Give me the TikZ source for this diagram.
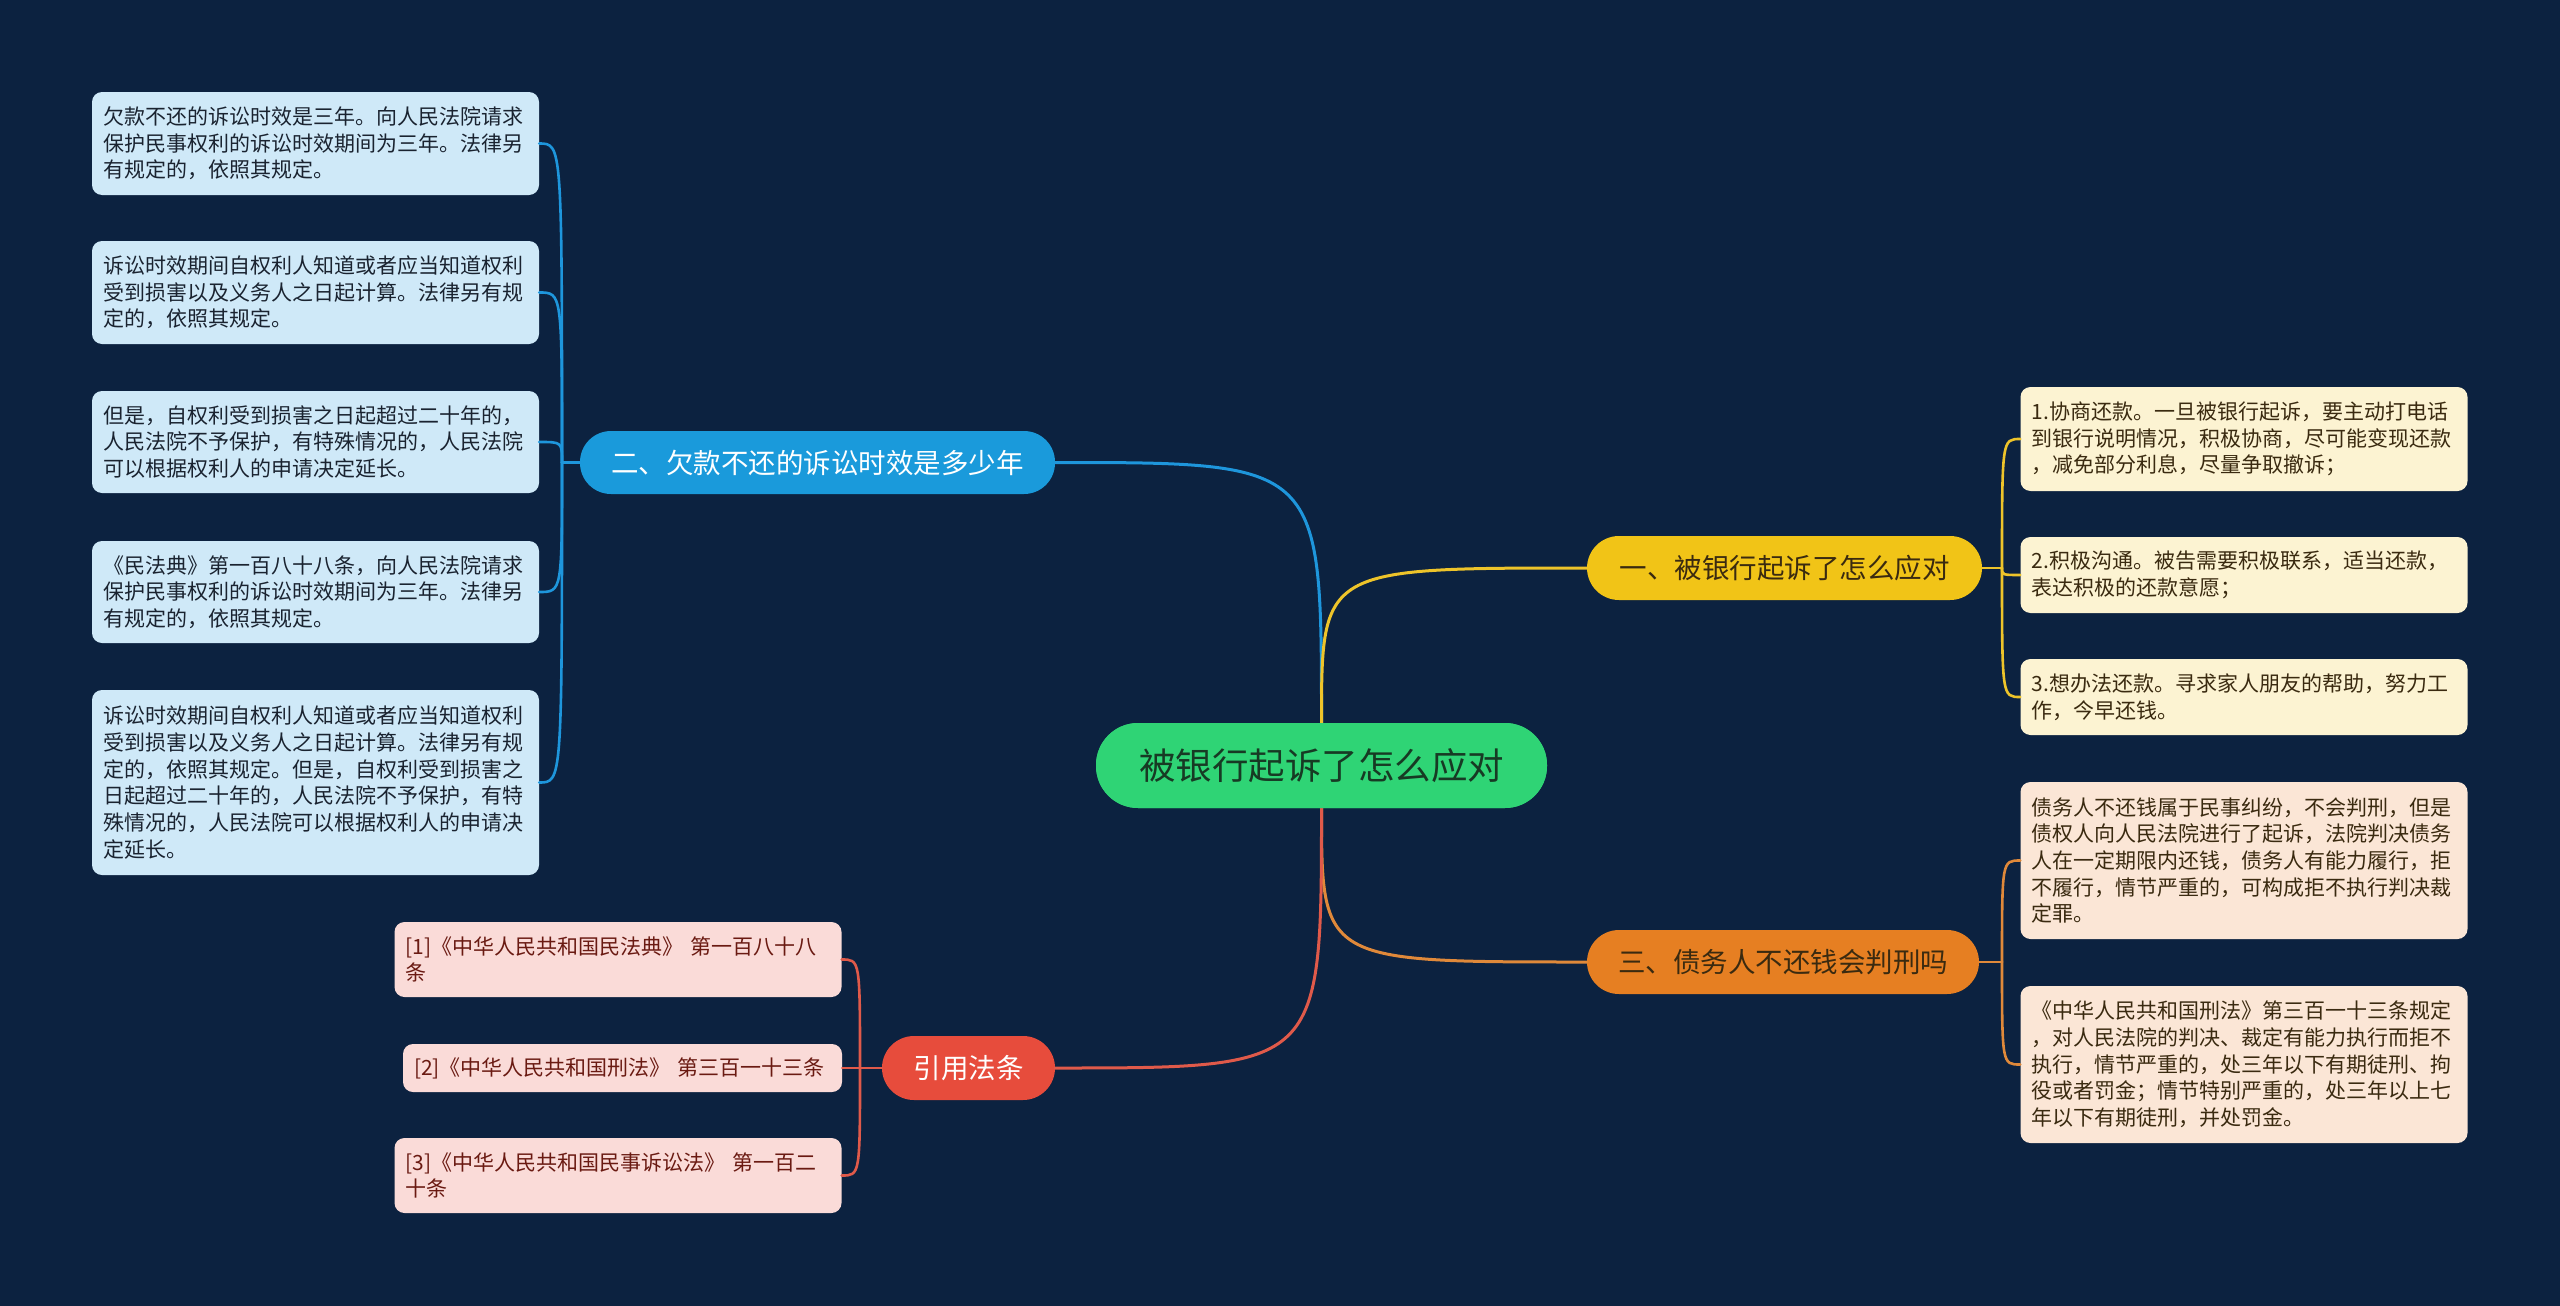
\documentclass[tikz,border=0pt]{standalone}
\usepackage{fontspec}
\newfontfamily\cjk{Noto Sans CJK SC}
\definecolor{bgc}{HTML}{0C2240}
\definecolor{cgreen}{HTML}{2FD475}
\definecolor{cgreentxt}{HTML}{173A24}
\definecolor{cblue}{HTML}{1A9ADB}
\definecolor{cyellow}{HTML}{F1C417}
\definecolor{corange}{HTML}{E67F22}
\definecolor{cred}{HTML}{E74C3C}
\definecolor{lblue}{HTML}{CFE9F8}
\definecolor{lyellow}{HTML}{FCF3D2}
\definecolor{lorange}{HTML}{FBE6D6}
\definecolor{lred}{HTML}{FADBD8}
\definecolor{tdark}{HTML}{1A2330}
\definecolor{tbrown}{HTML}{3A2A10}
\definecolor{tred}{HTML}{6A1A12}
\definecolor{lnblue}{HTML}{1E96DC}
\definecolor{lnyellow}{HTML}{EEC42A}
\definecolor{lnorange}{HTML}{E0893A}
\definecolor{lnred}{HTML}{E05A4A}
\tikzset{
  leafbox/.style={rectangle, rounded corners=10pt, inner xsep=11pt, inner ysep=0pt,
    text width=425pt, align=left, font=\cjk\fontsize{21pt}{26.7pt}\selectfont},
  topicbox/.style={rectangle, inner sep=0pt, align=center,
    font=\cjk\fontsize{27.5pt}{32pt}\selectfont},
  centerbox/.style={rectangle, inner sep=0pt, align=center, fill=cgreen, text=cgreentxt,
    rounded corners=42pt, minimum width=451pt, minimum height=85pt,
    font=\cjk\fontsize{36.5pt}{40pt}\selectfont},
  conn/.style={line width=3pt, line cap=round},
  subconn/.style={line width=2.6pt, line cap=round}
}
\begin{document}
\begin{tikzpicture}[x=1pt,y=-1pt]
\useasboundingbox (0,0) rectangle (2560,1306);
\fill[bgc] (0,0) rectangle (2560,1306);

% main nodes
\node[centerbox] (c) at (1321.5,765.5) {被银行起诉了怎么应对};
\node[topicbox, fill=cblue, text=white, rounded corners=31pt, minimum width=475pt, minimum height=63pt] (b) at (817.5,462.5) {二、欠款不还的诉讼时效是多少年};
\node[topicbox, fill=cyellow, text=tbrown, rounded corners=32pt, minimum width=395pt, minimum height=64pt] (y) at (1784.5,568) {一、被银行起诉了怎么应对};
\node[topicbox, fill=corange, text=tbrown, rounded corners=32pt, minimum width=392pt, minimum height=64pt] (o) at (1783,962) {三、债务人不还钱会判刑吗};
\node[topicbox, fill=cred, text=white, rounded corners=32pt, minimum width=173pt, minimum height=64pt] (r) at (968.5,1068) {引用法条};

% main connectors
\draw[conn, lnblue] (c.north) .. controls (c.north |- b.east) .. (b.east);
\draw[conn, lnyellow] (c.north) .. controls (c.north |- y.west) .. (y.west);
\draw[conn, lnorange] (c.south) .. controls (c.south |- o.west) .. (o.west);
\draw[conn, lnred] (c.south) .. controls (c.south |- r.east) .. (r.east);
\node[centerbox] at (c.center) {被银行起诉了怎么应对};

% blue leaves
\node[leafbox, fill=lblue, text=tdark, minimum height=103pt] (b1) at (315.5,143.5)
 {欠款不还的诉讼时效是三年。向人民法院请求\\保护民事权利的诉讼时效期间为三年。法律另\\有规定的，依照其规定。};
\node[leafbox, fill=lblue, text=tdark, minimum height=103pt] (b2) at (315.5,292.5)
 {诉讼时效期间自权利人知道或者应当知道权利\\受到损害以及义务人之日起计算。法律另有规\\定的，依照其规定。};
\node[leafbox, fill=lblue, text=tdark, minimum height=102pt] (b3) at (315.5,442)
 {但是，自权利受到损害之日起超过二十年的，\\人民法院不予保护，有特殊情况的，人民法院\\可以根据权利人的申请决定延长。};
\node[leafbox, fill=lblue, text=tdark, minimum height=102pt] (b4) at (315.5,592)
 {《民法典》第一百八十八条，向人民法院请求\\保护民事权利的诉讼时效期间为三年。法律另\\有规定的，依照其规定。};
\node[leafbox, fill=lblue, text=tdark, minimum height=185pt] (b5) at (315.5,782.5)
 {诉讼时效期间自权利人知道或者应当知道权利\\受到损害以及义务人之日起计算。法律另有规\\定的，依照其规定。但是，自权利受到损害之\\日起超过二十年的，人民法院不予保护，有特\\殊情况的，人民法院可以根据权利人的申请决\\定延长。};

\coordinate (jb) at (562,462.5);
\draw[subconn, lnblue] (b.west) -- (jb);
\foreach \n in {b1,b2,b3,b4,b5}
  \draw[subconn, lnblue] (jb) .. controls (jb |- \n.east) .. (\n.east);

% yellow leaves
\node[leafbox, fill=lyellow, text=tbrown, minimum height=104pt] (y1) at (2244,439)
 {1.协商还款。一旦被银行起诉，要主动打电话\\到银行说明情况，积极协商，尽可能变现还款\\，减免部分利息，尽量争取撤诉；};
\node[leafbox, fill=lyellow, text=tbrown, minimum height=76pt] (y2) at (2244,575)
 {2.积极沟通。被告需要积极联系，适当还款，\\表达积极的还款意愿；};
\node[leafbox, fill=lyellow, text=tbrown, minimum height=76pt] (y3) at (2244,697)
 {3.想办法还款。寻求家人朋友的帮助，努力工\\作，今早还钱。};

\coordinate (jy) at (2002,568);
\draw[subconn, lnyellow] (y.east) -- (jy);
\foreach \n in {y1,y2,y3}
  \draw[subconn, lnyellow] (jy) .. controls (jy |- \n.west) .. (\n.west);

% orange leaves
\node[leafbox, fill=lorange, text=tbrown, minimum height=157pt] (o1) at (2244,860.5)
 {债务人不还钱属于民事纠纷，不会判刑，但是\\债权人向人民法院进行了起诉，法院判决债务\\人在一定期限内还钱，债务人有能力履行，拒\\不履行，情节严重的，可构成拒不执行判决裁\\定罪。};
\node[leafbox, fill=lorange, text=tbrown, minimum height=157pt] (o2) at (2244,1064.5)
 {《中华人民共和国刑法》第三百一十三条规定\\，对人民法院的判决、裁定有能力执行而拒不\\执行，情节严重的，处三年以下有期徒刑、拘\\役或者罚金；情节特别严重的，处三年以上七\\年以下有期徒刑，并处罚金。};

\coordinate (jo) at (2002,962);
\draw[subconn, lnorange] (o.east) -- (jo);
\foreach \n in {o1,o2}
  \draw[subconn, lnorange] (jo) .. controls (jo |- \n.west) .. (\n.west);

% red leaves
\node[leafbox, fill=lred, text=tred, minimum height=75pt] (r1) at (618,959.5)
 {[1]《中华人民共和国民法典》 第一百八十八\\条};
\node[leafbox, fill=lred, text=tred, minimum height=48pt, text width=417pt] (r2) at (622.5,1068)
 {[2]《中华人民共和国刑法》 第三百一十三条};
\node[leafbox, fill=lred, text=tred, minimum height=75pt] (r3) at (618,1175.5)
 {[3]《中华人民共和国民事诉讼法》 第一百二\\十条};

\coordinate (jr) at (860,1068);
\draw[subconn, lnred] (r.west) -- (jr);
\foreach \n in {r1,r2,r3}
  \draw[subconn, lnred] (jr) .. controls (jr |- \n.east) .. (\n.east);
\end{tikzpicture}
\end{document}
